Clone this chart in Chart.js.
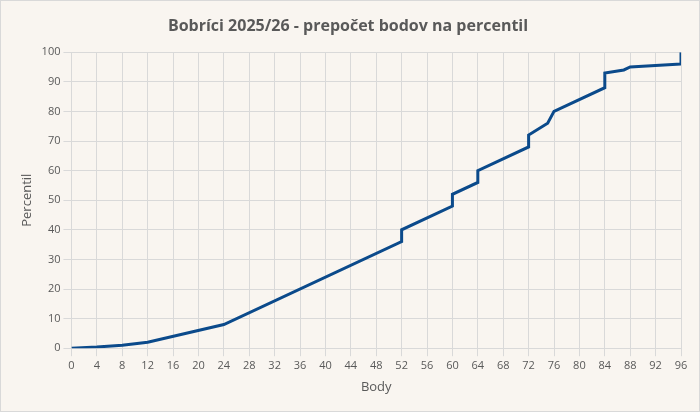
<!DOCTYPE html>
<html>
<head>
<meta charset="utf-8">
<script src="https://cdn.jsdelivr.net/npm/chart.js@4"></script>
<style>
  html, body { margin: 0; padding: 0; background: #f9f5f0; }
  #wrap { width: 698px; height: 410px; border: 1px solid #d9d9d9; background: #f9f5f0; }
</style>
</head>
<body>
<div id="wrap"><canvas id="chart" width="698" height="410"></canvas></div>
<script>
// body -> percentil
const bodyPoints = [0, 4, 8, 12, 24, 52, 52, 60, 60, 64, 64, 72, 72, 75, 76, 84, 84, 87, 88, 96, 96];
const percentil = [0, 0.4, 1, 2, 8, 36, 40, 48, 52, 56, 60, 68, 72, 76, 80, 88, 93, 94, 95, 96, 100];
const xTicks = { min: 0, max: 96, step: 4 };
const yTicks = { min: 0, max: 100, step: 10 };

const points = bodyPoints.map(function(x, i) { return { x: x, y: percentil[i] }; });

new Chart(document.getElementById('chart'), {
    type: 'scatter',
    data: {
        datasets: [{
            data: points,
            showLine: true,
            borderColor: '#0b4a8b',
            borderWidth: 3,
            pointRadius: 0,
            fill: false
        }]
    },
    options: {
        responsive: false,
        animation: false,
        layout: { padding: { left: 14, right: 18, top: 6, bottom: 12 } },
        plugins: {
            legend: { display: false },
            tooltip: { enabled: false },
            title: {
                display: true,
                text: 'Bobríci 2025/26 - prepočet bodov na percentil',
                color: '#595959',
                font: { family: 'Open Sans', size: 16, weight: 'bold' },
                padding: { top: 10, bottom: 16 }
            }
        },
        scales: {
            x: {
                type: 'linear',
                min: xTicks.min, max: xTicks.max,
                ticks: { stepSize: xTicks.step, color: '#595959', font: { family: 'Open Sans', size: 11 } },
                grid: { color: '#d9d9d9' },
                border: { color: '#d9d9d9' },
                title: { display: true, text: 'Body', color: '#595959', font: { family: 'Open Sans', size: 13 } }
            },
            y: {
                min: yTicks.min, max: yTicks.max,
                ticks: { stepSize: yTicks.step, color: '#595959', font: { family: 'Open Sans', size: 11 } },
                grid: { color: '#d9d9d9' },
                border: { color: '#d9d9d9' },
                title: { display: true, text: 'Percentil', color: '#595959', font: { family: 'Open Sans', size: 13 } }
            }
        }
    }
});
</script>
</body>
</html>
